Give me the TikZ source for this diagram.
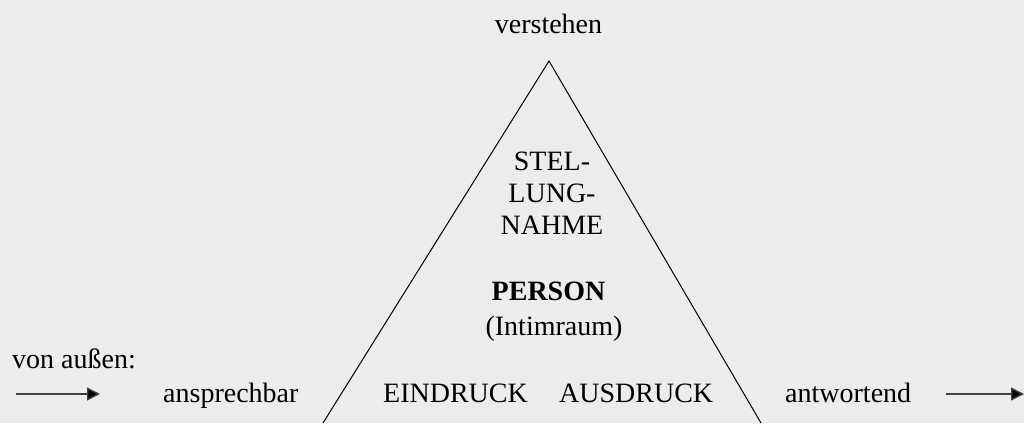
\documentclass[tikz,border=0pt]{standalone}
\usepackage{fontspec}
\setmainfont{Liberation Serif}
\usetikzlibrary{arrows.meta}
\definecolor{bgcol}{RGB}{236,236,236}
\tikzset{
  lbl/.style={inner sep=0pt, anchor=base, font=\fontsize{28}{32}\selectfont, align=center},
  edge/.style={draw=black, line width=1pt},
  arr/.style={draw=black!75, line width=1.4pt, -{Triangle[length=13pt,width=13pt,fill=black]}}
}
\begin{document}
\begin{tikzpicture}[x=1pt,y=-1pt]
\fill[bgcol] (0,0) rectangle (1024,423);
\useasboundingbox (0,0) rectangle (1024,423);
% triangle
\coordinate (apex) at (549,61);
\coordinate (bl) at (323,423);
\coordinate (br) at (761,423);
\draw[edge] (bl) -- (apex) -- (br);
% texts
\node[lbl] (verstehen) at (548.5,33) {verstehen};
\node[lbl] (stel) at (552,170) {STEL-};
\node[lbl] (lung) at (552,202) {LUNG-};
\node[lbl] (nahme) at (552,234) {NAHME};
\node[lbl,font=\fontsize{28}{32}\selectfont\bfseries] (person) at (548.5,300) {PERSON};
\node[lbl] (intim) at (554,335) {(Intimraum)};
\node[lbl, anchor=base west] (aussen) at (12,368) {von außen:};
\node[lbl, anchor=base west] (ansprech) at (163,402) {ansprechbar};
\node[lbl, anchor=base west] (eindruck) at (383,402) {EINDRUCK};
\node[lbl, anchor=base west] (ausdruck) at (559,402) {AUSDRUCK};
\node[lbl, anchor=base west] (antwort) at (785,402) {antwortend};
% arrows
\coordinate (la) at (16,394);
\coordinate (lb) at (100,394);
\coordinate (ra) at (946,394);
\coordinate (rb) at (1024,394);
\draw[arr] (la) -- (lb);
\draw[arr] (ra) -- (rb);
\end{tikzpicture}
\end{document}
